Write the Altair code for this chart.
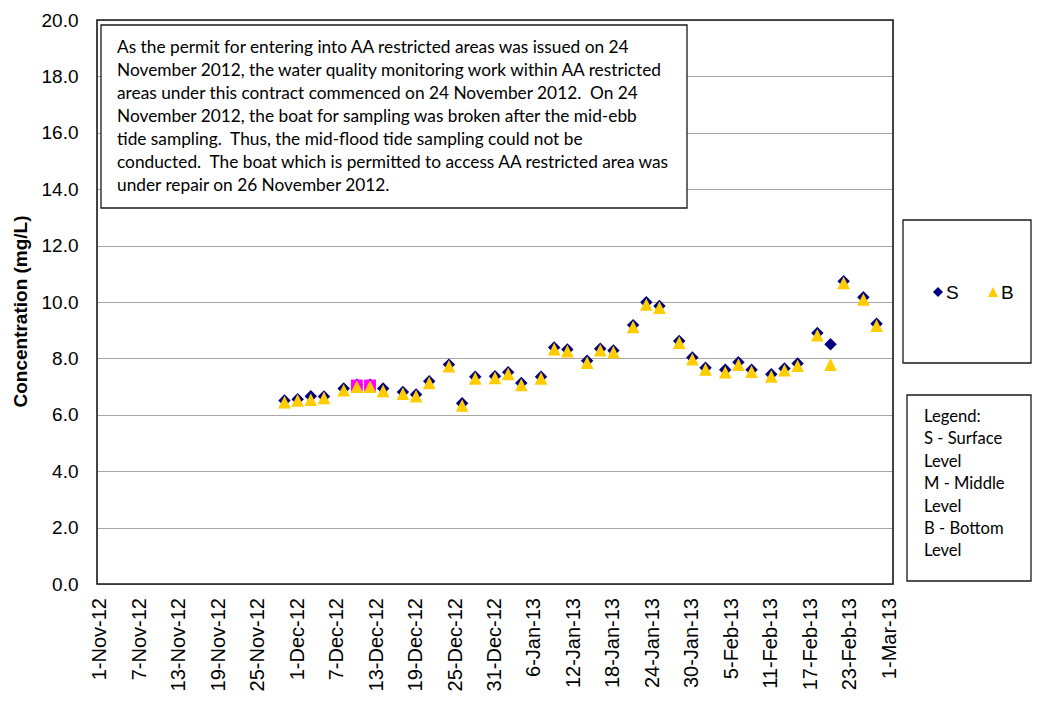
import altair as alt
import pandas as pd

# ---- data ----
dates = ["2012-11-29", "2012-12-01", "2012-12-03", "2012-12-05", "2012-12-08", "2012-12-10",
         "2012-12-12", "2012-12-14", "2012-12-17", "2012-12-19", "2012-12-21", "2012-12-24",
         "2012-12-26", "2012-12-28", "2012-12-31", "2013-01-02", "2013-01-04", "2013-01-07",
         "2013-01-09", "2013-01-11", "2013-01-14", "2013-01-16", "2013-01-18", "2013-01-21",
         "2013-01-23", "2013-01-25", "2013-01-28", "2013-01-30", "2013-02-01", "2013-02-04",
         "2013-02-06", "2013-02-08", "2013-02-11", "2013-02-13", "2013-02-15", "2013-02-18",
         "2013-02-20", "2013-02-22", "2013-02-25", "2013-02-27"]
surface = [6.51, 6.55, 6.66, 6.65, 6.93, 7.07, 7.07, 6.93, 6.81, 6.72, 7.19, 7.78,
           6.41, 7.35, 7.37, 7.51, 7.13, 7.35, 8.39, 8.32, 7.92, 8.34, 8.28, 9.18,
           9.99, 9.86, 8.62, 8.03, 7.67, 7.60, 7.86, 7.60, 7.44, 7.64, 7.82, 8.90,
           8.50, 10.74, 10.17, 9.23]
bottom = [6.45, 6.51, 6.54, 6.60, 6.87, 7.00, 7.00, 6.85, 6.75, 6.66, 7.13, 7.72,
          6.33, 7.29, 7.31, 7.45, 7.06, 7.29, 8.33, 8.26, 7.85, 8.29, 8.22, 9.12,
          9.91, 9.80, 8.56, 7.97, 7.61, 7.51, 7.78, 7.53, 7.36, 7.58, 7.74, 8.82,
          7.78, 10.68, 10.09, 9.16]
middle_dates = ["2012-12-10", "2012-12-12"]
middle = [7.04, 7.04]

tick_dates = ["2012-11-01", "2012-11-07", "2012-11-13", "2012-11-19", "2012-11-25",
              "2012-12-01", "2012-12-07", "2012-12-13", "2012-12-19", "2012-12-25",
              "2012-12-31", "2013-01-06", "2013-01-12", "2013-01-18", "2013-01-24",
              "2013-01-30", "2013-02-05", "2013-02-11", "2013-02-17", "2013-02-23",
              "2013-03-01"]
y_ticks = [0, 2, 4, 6, 8, 10, 12, 14, 16, 18, 20]

note_lines = [
    "As the permit for entering into AA restricted areas was issued on 24",
    "November 2012, the water quality monitoring work within AA restricted",
    "areas under this contract commenced on 24 November 2012. \u00a0On 24",
    "November 2012, the boat for sampling was broken after the mid-ebb",
    "tide sampling. \u00a0Thus, the mid-flood tide sampling could not be",
    "conducted. \u00a0The boat which is permitted to access AA restricted area was",
    "under repair on 26 November 2012.",
]
legend_lines = ["Legend:", "S - Surface", "Level", "M - Middle", "Level", "B - Bottom", "Level"]

W, H = 796, 564
NAVY = "#000080"
GOLD = "#FFCC00"
MAG = "#FF00FF"
AXIS_FONT = "Liberation Sans"
NOTE_FONT = "Lato"

tick_labels = [f"{d.day}-{d.strftime('%b-%y')}" for d in pd.to_datetime(tick_dates)]

df = pd.DataFrame({"date": [d + "T00:00:00" for d in dates], "S": surface, "B": bottom})
dfm = pd.DataFrame({"date": [d + "T00:00:00" for d in middle_dates], "M": middle})
dft = pd.DataFrame({"date": [d + "T00:00:00" for d in tick_dates], "label": tick_labels})

xscale = alt.Scale(domain=[alt.DateTime(year=2012, month=10, date=31, hours=12),
                           alt.DateTime(year=2013, month=3, date=1, hours=12)])
yscale = alt.Scale(domain=[0, 20], nice=False)

yaxis = alt.Axis(values=y_ticks, format=".1f", grid=True, gridColor="#A6A6A6", gridWidth=1,
                 ticks=False, domain=False, labelPadding=19, labelFont=AXIS_FONT,
                 labelFontSize=19, labelColor="black",
                 title="Concentration (mg/L)", titleFont=AXIS_FONT, titleFontSize=19,
                 titleFontWeight="bold", titleColor="black", titleAngle=270,
                 titleBaseline="middle", titleAlign="center", titleX=-77, titleY=291)

x_enc = alt.X("date:T", scale=xscale, axis=None)

s_layer = alt.Chart(df).mark_point(shape="diamond", filled=True, size=155, color=NAVY,
                                   opacity=1).encode(
    x=x_enc, y=alt.Y("S:Q", scale=yscale, axis=yaxis))
m_layer = alt.Chart(dfm).mark_point(shape="square", filled=True, size=140, color=MAG,
                                    opacity=1).encode(
    x=x_enc, y=alt.Y("M:Q", scale=yscale))
b_layer = alt.Chart(df).mark_point(shape="M0,-1L1,1L-1,1Z", filled=True, size=160, color=GOLD,
                                   opacity=1).encode(
    x=x_enc, y=alt.Y("B:Q", scale=yscale))

x_labels = alt.Chart(dft).mark_text(angle=270, align="right", baseline="middle",
                                    font=AXIS_FONT, fontSize=20, color="black").encode(
    x=x_enc, y=alt.value(H + 14), text="label:N")

one = pd.DataFrame({"k": [0]})

frame = alt.Chart(one).mark_rect(fill=None, stroke="#1a1a1a", strokeWidth=1.6).encode(
    x=alt.value(0), x2=alt.value(W), y=alt.value(0), y2=alt.value(H))

note_box = alt.Chart(one).mark_rect(fill="white", stroke="#1a1a1a", strokeWidth=1.3).encode(
    x=alt.value(4), x2=alt.value(590), y=alt.value(5), y2=alt.value(188))
note_text = alt.Chart(one).mark_text(text=note_lines, align="left", baseline="middle",
                                     font=NOTE_FONT, fontSize=17.3, lineHeight=23,
                                     color="black").encode(
    x=alt.value(20), y=alt.value(28))

leg1_box = alt.Chart(one).mark_rect(fill="white", stroke="#1a1a1a", strokeWidth=1.3).encode(
    x=alt.value(806), x2=alt.value(934), y=alt.value(200), y2=alt.value(343))
leg1_s = alt.Chart(one).mark_point(shape="diamond", filled=True, size=100, color=NAVY,
                                   opacity=1).encode(x=alt.value(841), y=alt.value(272))
leg1_b = alt.Chart(one).mark_point(shape="M0,-1L1,1L-1,1Z", filled=True, size=100, color=GOLD,
                                   opacity=1).encode(x=alt.value(896), y=alt.value(272))
leg1_st = alt.Chart(one).mark_text(text="S", align="left", baseline="middle", font=AXIS_FONT,
                                   fontSize=19, color="black").encode(
    x=alt.value(849), y=alt.value(273))
leg1_bt = alt.Chart(one).mark_text(text="B", align="left", baseline="middle", font=AXIS_FONT,
                                   fontSize=19, color="black").encode(
    x=alt.value(904), y=alt.value(273))

leg2_box = alt.Chart(one).mark_rect(fill="white", stroke="#1a1a1a", strokeWidth=1.3).encode(
    x=alt.value(810), x2=alt.value(934), y=alt.value(375), y2=alt.value(561))
leg2_text = alt.Chart(one).mark_text(text=legend_lines, align="left", baseline="middle",
                                     font=NOTE_FONT, fontSize=16.6, lineHeight=22.4,
                                     color="black").encode(
    x=alt.value(827), y=alt.value(397))

chart = alt.layer(
    s_layer, m_layer, b_layer, x_labels, frame, note_box, note_text,
    leg1_box, leg1_s, leg1_b, leg1_st, leg1_bt, leg2_box, leg2_text
).properties(
    width=W, height=H,
    autosize=alt.AutoSizeParams(type="none"),
    padding={"left": 89, "top": 12, "right": 139, "bottom": 110},
).configure_view(stroke=None).configure(background="white")

chart.save("out.html", embed_options={"renderer": "svg", "actions": False})
